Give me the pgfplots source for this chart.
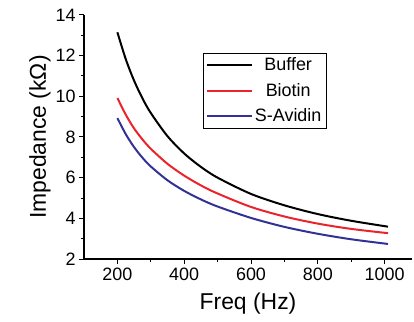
\documentclass[border=0pt]{standalone}
\usepackage{pgfplots}
\pgfplotsset{compat=1.18}
\usepackage{fontspec}
\setmainfont{Liberation Sans}
\definecolor{cred}{RGB}{235,35,45}
\definecolor{cblue}{RGB}{50,50,150}
\begin{document}
\begin{tikzpicture}
\begin{axis}[
  scale only axis,
  width=328bp, height=244bp,
  xmin=100, xmax=1082, ymin=2, ymax=14,
  axis x line*=bottom, axis y line*=left,
  axis line style={-, line width=1.2bp},
  xtick={200,400,600,800,1000},
  ytick={2,4,6,8,10,12,14},
  minor x tick num=1, minor y tick num=1,
  tick align=outside,
  major tick length=5bp, minor tick length=3bp,
  every tick/.style={black, line width=1bp},
  tick label style={font=\fontsize{18}{18}\selectfont},
  /pgf/number format/assume math mode=true,
  /pgf/number format/1000 sep={},
  xlabel={Freq (Hz)}, ylabel={Impedance (k\symbol{"03A9})},
  label style={font=\fontsize{23}{23}\selectfont},
  xlabel style={yshift=-6bp},
  ylabel style={yshift=-2bp},
  legend style={at={(axis cs:455,12.15)}, anchor=north west, draw=black, line width=0.8bp,
    font=\fontsize{18}{18}\selectfont, row sep=7bp, inner sep=3bp, cells={anchor=center}},
  legend image code/.code={\draw[#1, line width=2bp] (0bp,0bp) -- (45bp,0bp);},
]
\addplot[black, line width=2bp, smooth] coordinates {
(200,13.15) (225,11.83) (250,10.77) (275,9.90) (300,9.18) (350,8.04) (400,7.19) (450,6.53) (500,6.00) (600,5.20) (700,4.64) (800,4.21) (900,3.88) (1010,3.59)};
\addlegendentry{Buffer}
\addplot[cred, line width=2bp, smooth] coordinates {
(200,9.92) (225,9.1) (250,8.42) (275,7.88) (300,7.42) (350,6.68) (400,6.1) (450,5.62) (500,5.22) (600,4.56) (700,4.09) (800,3.74) (900,3.48) (1010,3.27)};
\addlegendentry{Biotin}
\addplot[cblue, line width=2bp, smooth] coordinates {
(200,8.93) (225,8.14) (250,7.5) (275,6.98) (300,6.55) (350,5.87) (400,5.35) (450,4.93) (500,4.58) (600,4.02) (700,3.58) (800,3.24) (900,2.97) (1010,2.74)};
\addlegendentry{S-Avidin}
\end{axis}
\pgfresetboundingbox
\path ([xshift=-84bp,yshift=-63bp]current axis.south west) rectangle ([xshift=330bp,yshift=259bp]current axis.south west);
\end{tikzpicture}
\end{document}
